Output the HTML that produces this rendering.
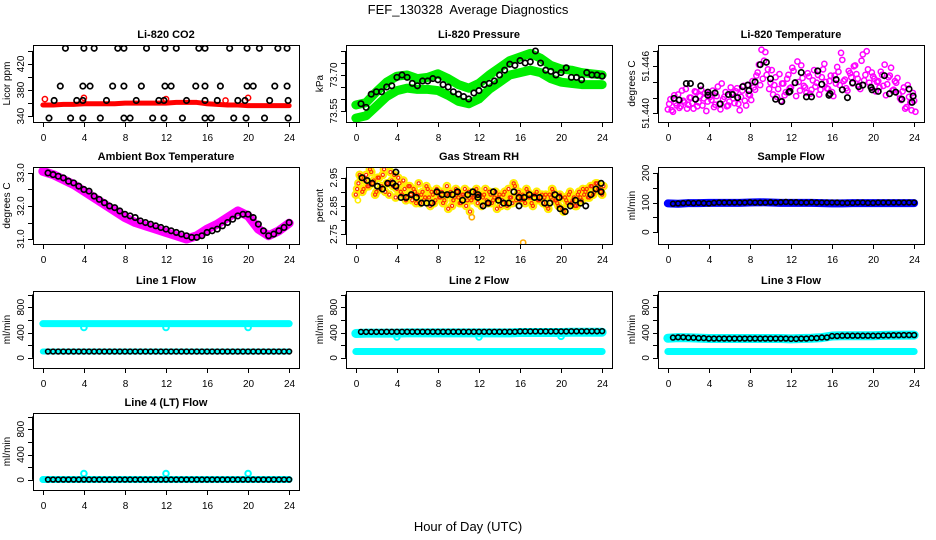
<!DOCTYPE html>
<html><head><meta charset="utf-8"><style>
html,body{margin:0;padding:0;background:#fff}
svg{display:block}
text{font-family:"Liberation Sans",sans-serif;fill:#000}
.tl{font-size:10px}
.tt{font-size:11px;font-weight:bold}
</style></head><body>
<svg id="c" width="936" height="540" viewBox="0 0 936 540" xmlns="http://www.w3.org/2000/svg">
<text x="468" y="14" text-anchor="middle" style="font-size:13px;white-space:pre" xml:space="preserve">FEF_130328  Average Diagnostics</text>
<text x="468" y="531" text-anchor="middle" style="font-size:13px">Hour of Day (UTC)</text>
</svg>
<script>
// ---- data ----
const xTickLabels=["0","4","8","12","16","20","24"];
const hourly=[0,1,2,3,4,5,6,7,8,9,10,11,12,13,14,15,16,17,18,19,20,21,22,23,24];
// CO2
const co2BlackX=[2.2,4,5,7.3,7.9,10.1,11.9,13,15.2,15.8,18.2,19.9,21.1,22.9,23.8,1.7,3.9,4.6,6.8,7.9,9.6,11.9,12.5,14.9,15.8,17.3,19.9,20.5,22.6,23.8,1.1,3.3,3.9,6.2,9.1,11.3,11.8,14,15.8,17,19,19.7,22.1,23.9,0.6,2.7,3.9,5.6,7.9,8.5,10.7,11.8,13.6,15.8,16.4,18.6,19.8,21.6,23.9];
const co2BlackY=[444,444,444,444,444,444,444,444,444,444,444,444,444,444,444,386,386,386,386,386,386,386,386,386,386,386,386,386,386,386,364,364,364,364,364,364,364,364,364,364,364,364,364,364,337,337,337,337,337,337,337,337,337,337,337,337,337,337,337];
const co2Red=[357,357,358,358,359,359,359,359,360,360,360,360,360,361,361,361,359,358,357,357,356,356,356,356,356];
// Pressure
const presUpper=[73.575,73.585,73.63,73.67,73.695,73.70,73.685,73.69,73.705,73.685,73.66,73.645,73.665,73.70,73.73,73.76,73.775,73.79,73.77,73.74,73.725,73.72,73.71,73.705,73.70];
const presLower=[73.52,73.53,73.57,73.61,73.635,73.645,73.64,73.64,73.635,73.615,73.59,73.58,73.60,73.64,73.67,73.70,73.71,73.72,73.71,73.685,73.67,73.665,73.66,73.66,73.66];
const presBlack=[73.58,73.565,73.62,73.63,73.63,73.65,73.655,73.69,73.70,73.69,73.665,73.655,73.675,73.675,73.685,73.68,73.66,73.65,73.63,73.62,73.61,73.60,73.625,73.635,73.66,73.665,73.675,73.70,73.72,73.745,73.74,73.76,73.75,73.755,73.80,73.75,73.72,73.715,73.70,73.71,73.73,73.69,73.69,73.68,73.71,73.70,73.70,73.695];
// Li-820 temperature (thousandths above 51.440)
const tempA=[0.5,1.8,0.2,1.3,2.4,0.9,1.6,3.1,1.1,2.0,0.6,2.7,1.4,3.0,1.9,0.3,2.5,1.7,0.8,2.2,1.2,3.8,2.1,0.9,1.5,2.6,1.3,3.2,0.4,2.9,1.6,3.6,2.3,4.1,3.0,5.2,3.6,4.4,7.8,5.6,3.9,2.4,4.6,3.1,1.6,3.8,2.7,4.9,3.3,5.4,2.2,4.0,6.1,3.5,2.6,4.7,3.0,5.5,3.9,2.4,4.6,6.3,3.2,4.1,2.7,4.8,5.9,3.6,6.8,4.3,2.9,5.1,3.8,6.1,4.4,3.1,7.5,4.9,5.6,3.4,4.7,2.8,4.1,5.3,3.5,2.3,4.6,5.8,3.0,3.9,2.5,1.7,3.3,0.8,2.1,0.4,1.6];
const tempB=[1.2,0.4,2.3,1.0,0.7,2.9,1.4,0.6,2.0,1.3,2.8,0.9,2.2,1.0,2.6,1.5,2.1,2.9,1.1,3.4,0.5,1.8,2.7,1.0,3.3,1.9,2.8,1.2,2.1,3.5,1.0,2.4,1.7,3.3,4.8,6.2,8.1,6.7,4.9,3.1,5.5,3.6,2.1,5.0,3.8,2.3,4.4,3.2,5.8,3.9,6.6,2.9,4.5,3.3,5.1,2.5,4.2,3.4,4.9,3.0,5.6,4.0,3.1,4.8,2.2,3.8,5.3,7.7,4.1,3.2,5.4,4.6,6.0,5.0,3.6,6.7,4.2,7.9,3.9,5.2,4.4,4.0,3.3,4.9,6.2,3.7,4.8,2.9,4.1,4.5,1.9,2.8,0.6,3.6,1.4,2.6,0.2];
const tempBlackX=[0.6,1.1,1.8,2.2,2.7,3.2,3.9,3.9,4.6,5.1,5.9,6.3,6.8,7.3,7.8,7.9,8.5,9.0,9.6,10.0,10.5,11.1,11.8,11.9,12.4,13.0,13.5,14.0,14.6,15.0,15.7,15.8,16.4,17.0,17.5,18.0,18.6,19.0,19.8,19.9,20.5,21.1,21.6,22.2,22.8,23.5,23.8,23.9];
const tempBlackY=[1.9,1.7,3.8,3.8,1.8,3.5,2.7,2.3,2.6,1.2,2.4,2.4,2.0,3.4,3.6,2.9,4.0,6.2,6.5,4.4,1.8,1.5,2.7,2.8,3.9,5.2,2.1,2.1,5.4,3.7,2.3,2.5,4.3,3.0,2.0,3.9,3.4,3.6,3.3,3.0,2.8,4.8,2.5,2.7,1.8,3.1,1.4,2.2];
// Ambient box temperature
const ambLine=[33.05,32.95,32.8,32.65,32.45,32.25,32.05,31.85,31.65,31.5,31.4,31.3,31.2,31.1,31.0,31.1,31.3,31.45,31.65,31.85,31.7,31.3,31.1,31.25,31.48];
const ambBlack=[33.0,32.95,32.9,32.85,32.75,32.7,32.6,32.5,32.45,32.3,32.2,32.1,32.0,31.95,31.85,31.75,31.7,31.65,31.55,31.5,31.45,31.4,31.35,31.3,31.25,31.2,31.15,31.1,31.05,31.05,31.1,31.2,31.25,31.3,31.4,31.5,31.6,31.7,31.75,31.75,31.65,31.45,31.25,31.1,31.15,31.25,31.35,31.5];
// Gas stream RH (hundredths above 2.80)
const rhA=[9,13,15,11,16,12,17,14,10,15,12,18,13,9,14,16,11,13,9,11,8,12,7,10,9,6,10,8,11,5,9,7,10,8,6,9,4,10,7,11,8,6,9,5,10,7,8,11,9,5,9,7,10,6,8,4,9,7,10,5,8,6,12,9,7,9,6,10,8,5,9,7,8,6,9,4,8,10,7,5,8,3,7,9,6,8,5,10,7,9,11,8,12,10,13,11,9];
const rhB=[11,16,10,14,12,18,13,9,15,11,16,10,13,17,12,8,15,10,14,7,12,9,11,6,13,9,7,12,8,10,6,11,8,10,7,12,9,5,8,10,6,9,11,7,3,8,10,6,9,8,11,6,9,7,10,8,5,9,6,11,8,13,7,10,8,7,11,8,6,9,10,7,9,8,5,9,11,7,6,9,4,8,6,10,7,5,9,8,11,10,8,12,9,13,11,10,12];
const rhBlackX=[0.6,1.1,1.6,2.1,2.6,3.1,3.6,3.9,3.9,4.4,4.9,5.4,5.9,6.4,6.9,7.4,7.9,8.4,8.9,9.4,9.9,10.4,10.9,11.4,11.9,11.9,12.4,12.9,13.4,13.9,14.4,14.9,15.4,15.9,15.9,16.4,16.9,17.4,17.9,18.4,18.9,19.4,19.8,19.9,20.4,20.9,21.4,21.9,22.4,22.9,23.4,23.9,23.9];
const rhBlackY=[15,14,13,12,11,13,13,17,12,8,8,9,8,6,6,6,10,9,9,9,10,7,9,10,9,8,5,6,10,7,6,6,10,8,5,8,9,8,8,6,6,9,8,4,3,5,7,6,5,9,11,13,10];
// Sample flow
const sampleBand=[97,96,98,98,99,99,99,99,100,101,100,99,99,99,99,98,97,97,98,98,98,98,98,98,98];
const sampleBlack=[96,97,98,99,98,99,98,97,99,100,100,100,100,100,100,101,100,100,100,101,100,101,102,101,101,100,100,101,100,100,100,100,100,99,99,99,100,100,99,99,100,100,100,100,100,100,100,100];
// Line flows
const l1Cyan=[540,540,540,540,540,540,540,540,540,540,540,540,540,540,540,540,540,540,540,540,540,540,540,540,540];
const l1Black=[100,100,100,100,100,100,100,100,100,100,100,100,100,100,100,100,100,100,100,100,100,100,100,100,100];
const l1Dips=[480,480,480];
const dipHours=[4,12,20];
const l2Cyan=[385,390,390,390,390,395,395,395,395,395,395,395,395,395,395,395,400,400,400,400,400,405,405,405,405];
const l2Black=[410,410,410,412,412,412,412,412,412,412,412,412,412,412,412,412,418,418,418,418,418,420,420,420,422];
const l2Low=[100,100,100,100,100,100,100,100,100,100,100,100,100,100,100,100,100,100,100,100,100,100,100,100,100];
const l2Dips=[330,330,340];
const l3Cyan=[310,320,318,312,305,305,305,305,305,305,305,305,300,305,310,320,345,350,350,350,350,355,358,360,360];
const l3Black=[320,325,318,312,305,305,305,305,305,305,305,305,300,305,312,322,345,350,350,350,350,355,358,360,360];
const l3Low=[100,100,100,100,100,100,100,100,100,100,100,100,100,100,100,100,100,100,100,100,100,100,100,100,100];
const l4Line=[5,5,5,5,5,5,5,5,5,5,5,5,5,5,5,5,5,5,5,5,5,5,5,5,5];
const l4Spikes=[100,100,100];

// ---- drawing ----
const NS="http://www.w3.org/2000/svg";
const svg=document.getElementById('c');
const LEFTS=[33,346,658], TOPS=[45,167,291,413], W=266, H=77;
function el(tag,parent,attrs){const e=document.createElementNS(NS,tag);for(const k in attrs)e.setAttribute(k,attrs[k]);parent.appendChild(e);return e;}
let clipId=0;
function panel(col,row,title,ylab,ymin,ymax,ticks,labels,name){
  const L=LEFTS[col],T=TOPS[row];
  const g=el('g',svg,{});
  
  
  const X=h=>L+(h+0.96)/25.92*W;
  const Y=v=>T+H-(v-ymin)/(ymax-ymin)*H;
  const t=el('text',g,{x:L+W/2,y:T-7,'text-anchor':'middle','class':'tt'});t.textContent=title;
  
  
  const yl=el('text',g,{x:0,y:0,'text-anchor':'middle','class':'tl',transform:`translate(${L-23},${T+H/2}) rotate(-90)`});yl.textContent=ylab;
  
  
  const xa=el('g',g,{});
  
  
  el('line',xa,{x1:X(0),x2:X(24),y1:T+H+0.5,y2:T+H+0.5,stroke:'#000'});
  xTickLabels.forEach(s=>{const h=+s;const x=Math.round(X(h))+0.5;
    el('line',xa,{x1:x,x2:x,y1:T+H,y2:T+H+5,stroke:'#000'});
    const tx=el('text',xa,{x:x,y:T+H+19,'text-anchor':'middle','class':'tl'});tx.textContent=s;
    
    
  });
  const ya=el('g',g,{});
  
  
  el('line',ya,{x1:L-0.5,x2:L-0.5,y1:Y(ticks[0]),y2:Y(ticks[ticks.length-1]),stroke:'#000'});
  ticks.forEach(v=>{const y=Math.round(Y(v))+0.5;el('line',ya,{x1:L,x2:L-5,y1:y,y2:y,stroke:'#000'});});
  labels.forEach(s=>{const y=Y(+s);
    const tx=el('text',ya,{x:0,y:0,'text-anchor':'middle','class':'tl',transform:`translate(${L-9},${y}) rotate(-90)`});tx.textContent=s;
    
    
  });
  const cid='clip'+(clipId++);
  const cp=el('clipPath',g,{id:cid});el('rect',cp,{x:L,y:T,width:W,height:H});
  const plot=el('g',g,{'clip-path':`url(#${cid})`});
  
  
  const box=el('rect',g,{x:L+0.5,y:T+0.5,width:W,height:H,fill:'none',stroke:'#000'});
  
  
  return {X,Y,plot};
}
function dot(p,h,v,color,r,sw,name){
  const c=el('circle',p.plot,{cx:p.X(h),cy:p.Y(v),r:r,fill:'none',stroke:color,'stroke-width':sw});
  
  
  return c;
}
function band(p,hs,vs,color,w,name){
  const pl=el('polyline',p.plot,{points:hs.map((h,i)=>p.X(h)+','+p.Y(vs[i])).join(' '),fill:'none',stroke:color,'stroke-width':w,'stroke-linejoin':'round','stroke-linecap':'round'});
  
  
}
function seq(n,start,step){const a=[];for(let i=0;i<n;i++)a.push(start+i*step);return a;}
const half=seq(48,0.5,0.5), quarter=seq(97,0,0.25), quarterB=seq(97,0.125,0.25);
const K='#000', BR=2.7, BW=1.7;

// CO2
let p=panel(0,0,'Li-820 CO2','Licor ppm',331,449,[340,360,380,400,420,440],['340','380','420'],'co2');
band(p,hourly,co2Red,'#ff0000',5,'co2-red-band');
dot(p,0.2,366,'#ff0000',2.6,1.5,'co2-red-point');dot(p,4,368,'#ff0000',2.6,1.5,'co2-red-point');dot(p,12,366,'#ff0000',2.6,1.5,'co2-red-point');dot(p,17.8,364,'#ff0000',2.6,1.5,'co2-red-point');dot(p,20,368,'#ff0000',2.6,1.5,'co2-red-point');
co2BlackX.forEach((h,i)=>dot(p,h,co2BlackY[i],K,BR,BW,'co2-black-point'));

// Pressure
p=panel(1,0,'Li-820 Pressure','kPa',73.504,73.825,[73.55,73.60,73.65,73.70,73.75,73.80],['73.55','73.70'],'pressure');
band(p,hourly,presUpper,'#00ee00',9,'pressure-upper-band');
band(p,hourly,presLower,'#00ee00',9,'pressure-lower-band');
half.forEach((h,i)=>dot(p,h,presBlack[i],K,BR,BW,'pressure-black-point'));

// Temperature
p=panel(2,0,'Li-820 Temperature','degrees C',51.4389,51.4487,[51.440,51.442,51.444,51.446,51.448],['51.440','51.446'],'li820-temp');
quarter.forEach((h,i)=>dot(p,h,51.44+tempA[i]/1000,'#ff00ff',2.6,1.5,'temp-magenta-point'));
quarterB.forEach((h,i)=>dot(p,h,51.44+tempB[i]/1000,'#ff00ff',2.6,1.5,'temp-magenta-point'));
tempBlackX.forEach((h,i)=>dot(p,h,51.44+tempBlackY[i]/1000,K,BR,BW,'temp-black-point'));

// Ambient
p=panel(0,1,'Ambient Box Temperature','degrees C',30.85,33.18,[31,31.5,32,32.5,33],['31.0','32.0','33.0'],'ambient');
band(p,hourly,ambLine,'#ff00ff',9,'ambient-magenta-band');
half.forEach((h,i)=>dot(p,h,ambBlack[i],K,BR,BW,'ambient-black-point'));

// RH
p=panel(1,1,'Gas Stream RH','percent',2.715,2.988,[2.75,2.80,2.85,2.90,2.95],['2.75','2.85','2.95'],'rh');
[[quarter,rhA],[quarterB,rhB]].forEach(([hs,vs])=>hs.forEach((h,i)=>{dot(p,h,2.8+vs[i]/100,'#ffee00',3.4,2,'rh-yellow-point');}));
[[quarter,rhA],[quarterB,rhB]].forEach(([hs,vs])=>hs.forEach((h,i)=>{dot(p,h,2.8+vs[i]/100,'#ff3300',1.6,1.2,'rh-red-point');}));
dot(p,0.2,2.87,'#ffee00',2.6,1.6,'rh-yellow-point');dot(p,16.3,2.72,'#ffaa00',2.6,1.6,'rh-yellow-point');dot(p,11.3,2.81,'#ffaa00',2.6,1.6,'rh-yellow-point');
rhBlackX.forEach((h,i)=>dot(p,h,2.8+rhBlackY[i]/100,K,BR,BW,'rh-black-point'));

// Sample flow
p=panel(2,1,'Sample Flow','ml/min',-40,220,[0,50,100,150,200],['0','100','200'],'sample-flow');
band(p,hourly,sampleBand,'#0000ff',8,'sample-blue-band');
half.forEach((h,i)=>dot(p,h,sampleBlack[i],K,2.4,1.6,'sample-black-point'));

const flowTicks=[0,200,400,600,800,1000], flowLabels=['0','400','800'];
// Line 1
p=panel(0,2,'Line 1 Flow','ml/min',-160,1056,flowTicks,flowLabels,'line1');
band(p,hourly,l1Cyan,'#00ffff',7,'line1-cyan-band');
band(p,hourly,l1Black,'#00ffff',6,'line1-cyan-low');
dipHours.forEach((h,i)=>dot(p,h,l1Dips[i],'#00ffff',2.8,2,'line1-dip-point'));
half.forEach((h,i)=>dot(p,h,l1Black[Math.floor(h)],K,2.4,1.6,'line1-black-point'));
// Line 2
p=panel(1,2,'Line 2 Flow','ml/min',-160,1056,flowTicks,flowLabels,'line2');
band(p,hourly,l2Cyan,'#00ffff',9,'line2-cyan-band');
band(p,hourly,l2Low,'#00ffff',7,'line2-cyan-low');
dipHours.forEach((h,i)=>dot(p,h,l2Dips[i],'#00ffff',2.8,2,'line2-dip-point'));
half.forEach((h,i)=>dot(p,h,l2Black[Math.floor(h)],K,2.4,1.6,'line2-black-point'));
// Line 3
p=panel(2,2,'Line 3 Flow','ml/min',-160,1056,flowTicks,flowLabels,'line3');
band(p,hourly,l3Cyan,'#00ffff',9,'line3-cyan-band');
band(p,hourly,l3Low,'#00ffff',7,'line3-cyan-low');
half.forEach((h,i)=>dot(p,h,l3Black[Math.floor(h)],K,2.4,1.6,'line3-black-point'));
// Line 4
p=panel(0,3,'Line 4 (LT) Flow','ml/min',-160,1056,flowTicks,flowLabels,'line4');
band(p,hourly,l4Line,'#00ffff',7,'line4-cyan-band');
dipHours.forEach((h,i)=>dot(p,h,l4Spikes[i],'#00ffff',2.8,2,'line4-spike-point'));
half.forEach((h,i)=>dot(p,h,l4Line[Math.floor(h)],K,2.4,1.6,'line4-black-point'));
</script>
</body></html>
